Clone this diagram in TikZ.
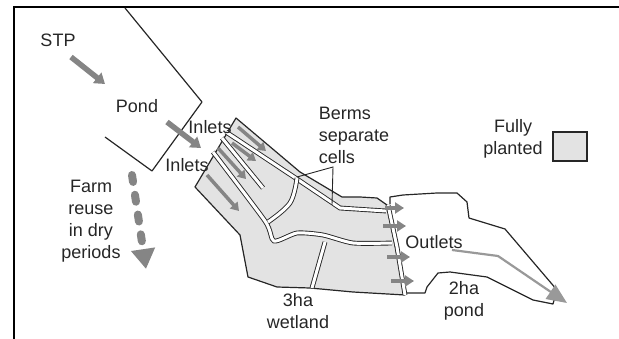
\documentclass[tikz,border=0pt]{standalone}
\usepackage{xcolor}
\usepackage{fontspec}
\usepackage{tikz}
\usetikzlibrary{arrows.meta}
\setmainfont{Liberation Sans}
\definecolor{planted}{gray}{0.89}
\definecolor{inkline}{gray}{0.15}
\definecolor{flowgray}{gray}{0.52}
\tikzset{
    caption/.style={text=inkline, font=\fontsize{18}{22}\selectfont, align=center, inner sep=0pt},
    outline/.style={draw=inkline, line width=1.2pt, line join=round},
    berm/.style={draw=inkline, line width=0.9pt, double=white, double distance=3pt},
    flow/.style={draw=flowgray, line width=5.5pt, -{Triangle[width=13pt,length=10pt]}},
    cellflow/.style={draw=flowgray, line width=3.5pt, -{Triangle[width=10pt,length=8pt]}},
    outflow/.style={draw=flowgray, line width=3.5pt, -{Triangle[width=11pt,length=9pt]}}
}

\begin{document}
\begin{tikzpicture}[x=1pt, y=-1pt]
    \useasboundingbox (0, 0) rectangle (619, 339);

    % Frame
    \draw[black, line width=2.2pt] (14, 339) -- (14, 7) -- (619, 7);

    % Pond
    \draw[outline] (125, 8) -- (202, 102) -- (152, 171) -- (105, 137);

    % Wetland
    \draw[outline, fill=planted] (236, 118) -- (300, 172) -- (342, 197) -- (360, 197) -- (377, 198)
        -- (387, 205) -- (405, 295) -- (353, 292) -- (310, 288) -- (277, 287) -- (248, 277)
        -- (240, 235) -- (195, 187) -- cycle;

    % 2ha pond
    \draw[outline] (390, 204) -- (390, 197) -- (403, 195) -- (437, 193) -- (457, 193) -- (467, 202)
        -- (469, 218) -- (505, 229) -- (557, 290) -- (553, 304) -- (533, 300) -- (487, 277)
        -- (450, 272) -- (438, 273) -- (427, 287) -- (425, 293) -- (405, 293);

    % Berms
    \draw[berm] (226, 132) -- (297, 179) -- (340, 208) -- (386, 211);
    \draw[berm] (222, 138) -- (263, 188);
    \draw[berm] plot[smooth, tension=0.4] coordinates {(213, 152) (265, 221) (274, 241) (297, 233)
        (323, 235) (353, 243) (392, 243)};
    \draw[berm] plot[smooth, tension=0.6] coordinates {(297, 178) (290, 203) (268, 222)};
    \draw[berm] (325, 242) -- (312, 288);
    \draw[berm] (388, 205) -- (397, 247) -- (405, 295);

    % Pointer of the berms label
    \coordinate (bermA) at (297, 177);
    \coordinate (bermB) at (332, 205);
    \coordinate (bermknee) at (333, 167);
    \draw[inkline, line width=0.9pt] (bermA) -- (bermknee) -- (bermB);

    % Flow in
    \coordinate (stpfrom) at (71, 57);
    \coordinate (stpto) at (105, 84);
    \coordinate (pondfrom) at (167, 122);
    \coordinate (pondto) at (201, 148);
    \draw[flow] (stpfrom) -- (stpto);
    \draw[flow] (pondfrom) -- (pondto);

    % Flow in the cells
    \coordinate (cellAfrom) at (238, 127);
    \coordinate (cellAto) at (266, 151);
    \coordinate (cellBfrom) at (232, 143);
    \coordinate (cellBto) at (256, 161);
    \coordinate (cellCfrom) at (218, 148);
    \coordinate (cellCto) at (246, 179);
    \coordinate (cellDfrom) at (207, 175);
    \coordinate (cellDto) at (239, 211);
    \draw[cellflow] (cellAfrom) -- (cellAto);
    \draw[cellflow] (cellBfrom) -- (cellBto);
    \draw[cellflow] (cellCfrom) -- (cellCto);
    \draw[cellflow] (cellDfrom) -- (cellDto);

    % Outlets
    \coordinate (outAfrom) at (385, 208);
    \coordinate (outAto) at (404, 208);
    \coordinate (outBfrom) at (383, 226);
    \coordinate (outBto) at (406, 226);
    \coordinate (outCfrom) at (387, 257);
    \coordinate (outCto) at (410, 257);
    \coordinate (outDfrom) at (391, 281);
    \coordinate (outDto) at (414, 281);
    \draw[outflow] (outAfrom) -- (outAto);
    \draw[outflow] (outBfrom) -- (outBto);
    \draw[outflow] (outCfrom) -- (outCto);
    \draw[outflow] (outDfrom) -- (outDto);

    % Through the 2ha pond
    \coordinate (longfrom) at (452, 250);
    \coordinate (longknee) at (498, 256);
    \coordinate (longto) at (567, 303);
    \draw[draw=black!40, line width=2.2pt, -{Triangle[width=17pt,length=20pt]}] (longfrom) -- (longknee) -- (longto);

    % Farm reuse
    \coordinate (farmfrom) at (132, 175);
    \coordinate (farmto) at (146, 269);
    \draw[draw=flowgray, line width=8pt, line cap=round, dash pattern=on 7pt off 13pt, -{Triangle[width=23pt,length=20pt]}] (farmfrom) -- (farmto);

    % Legend box
    \node[draw=inkline, line width=1.5pt, fill=planted, minimum width=34pt, minimum height=29pt, inner sep=0pt] (legendbox) at (570, 146.5) {};

    % Labels
    \node[caption] (stp) at (58, 40) {STP};
    \node[caption] (pond) at (137, 106) {Pond};
    \node[caption] (inletsA) at (210, 127) {Inlets};
    \node[caption] (inletsB) at (187, 165) {Inlets};
    \node[caption, align=left] (berms) at (354, 135) {Berms\\separate\\cells};
    \node[caption] (fully) at (513, 139) {Fully\\planted};
    \node[caption] (farm) at (91, 221) {Farm\\reuse\\in dry\\periods};
    \node[caption] (outlets) at (434, 242) {Outlets};
    \node[caption] (wetland) at (298, 311) {3ha\\wetland};
    \node[caption] (pondtwo) at (464, 301) {2ha\\pond};
\end{tikzpicture}
\end{document}
